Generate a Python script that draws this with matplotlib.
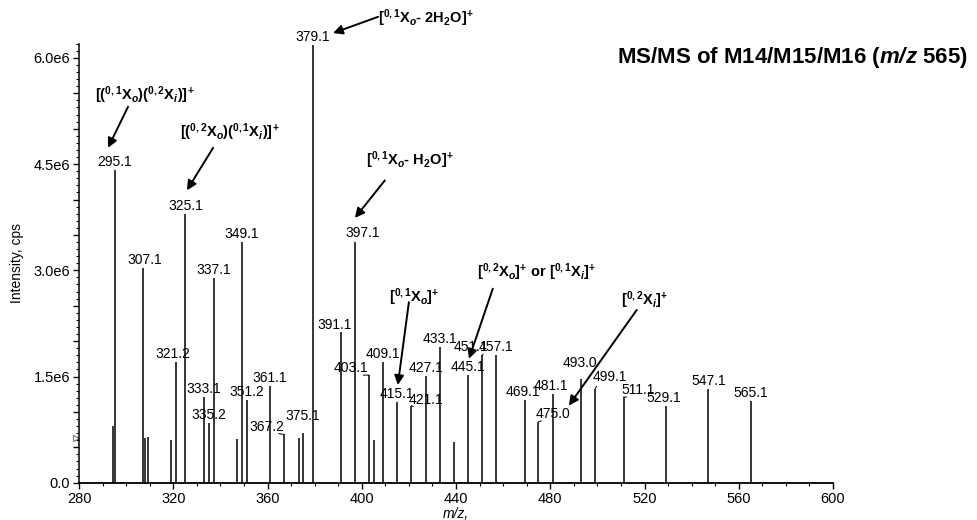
import matplotlib
matplotlib.use('Agg')
import matplotlib.pyplot as plt
from matplotlib.ticker import MultipleLocator, FuncFormatter

plt.rcParams['font.family'] = ['Liberation Sans', 'DejaVu Sans']
plt.rcParams['mathtext.fontset'] = 'custom'
plt.rcParams['mathtext.rm'] = 'Liberation Sans'
plt.rcParams['mathtext.it'] = 'Liberation Sans:italic'
plt.rcParams['mathtext.bf'] = 'Liberation Sans:bold'
plt.rcParams['mathtext.bfit'] = 'Liberation Sans:italic:bold'
plt.rcParams['mathtext.default'] = 'bf'

# ---- spectrum peaks (m/z, intensity in cps) ----
mz = [294.5, 295.1, 307.1, 308.1, 309.1, 318.9, 321.2, 325.1, 333.1, 335.2,
      337.1, 346.9, 349.1, 351.2, 361.1, 367.2, 373.2, 375.1, 379.1, 391.1,
      397.1, 403.1, 405.0, 409.1, 415.1, 421.1, 427.1, 433.1, 439.0, 445.1,
      451.1, 457.1, 469.1, 475.0, 481.1, 493.0, 499.1, 511.1, 529.1, 547.1,
      565.1]
intensity = [0.80e6, 4.42e6, 3.03e6, 0.63e6, 0.64e6, 0.60e6, 1.70e6, 3.80e6, 1.21e6, 0.85e6,
             2.89e6, 0.62e6, 3.40e6, 1.17e6, 1.37e6, 0.68e6, 0.63e6, 0.70e6, 6.18e6, 2.13e6,
             3.40e6, 1.52e6, 0.61e6, 1.71e6, 1.14e6, 1.09e6, 1.51e6, 1.92e6, 0.57e6, 1.52e6,
             1.80e6, 1.81e6, 1.17e6, 0.86e6, 1.25e6, 1.46e6, 1.33e6, 1.21e6, 1.09e6, 1.33e6,
             1.15e6]
peak_labels = ['', '295.1', '307.1', '', '', '', '321.2', '325.1', '333.1', '335.2',
               '337.1', '', '349.1', '351.2', '361.1', '367.2', '', '375.1', '379.1', '391.1',
               '397.1', '403.1', '', '409.1', '415.1', '421.1', '427.1', '433.1', '', '445.1',
               '451.1', '457.1', '469.1', '475.0', '481.1', '493.0', '499.1', '511.1', '529.1', '547.1',
               '565.1']

# label shifts in pixels (dx, dy, connector line)
label_shift = {
    '307.1': (2, 8, False), '321.2': (-3, 8, False),
    '367.2': (-18, 8, True), '375.1': (0, 17, False),
    '391.1': (-6, 7, False), '397.1': (8, 9, False),
    '403.1': (-18, 7, True), '421.1': (14, 6, True),
    '451.1': (-11, 8, True), '475.0': (15, 8, True),
    '493.0': (-1, 16, False), '499.1': (15, 12, True),
    '511.1': (15, 7, True), '469.1': (-2, 8, False),
    '481.1': (-2, 8, False), '529.1': (-2, 8, False),
}

# ---- fragment annotations ----
frag_texts = [
    r'[($^{0,1}$X$_{\mathbfit{o}}$)($^{0,2}$X$_{\mathbfit{i}}$)]$^{+}$',
    r'[($^{0,2}$X$_{\mathbfit{o}}$)($^{0,1}$X$_{\mathbfit{i}}$)]$^{+}$',
    r'[$^{0,1}$X$_{\mathbfit{o}}$- 2H$_{2}$O]$^{+}$',
    r'[$^{0,1}$X$_{\mathbfit{o}}$- H$_{2}$O]$^{+}$',
    r'[$^{0,1}$X$_{\mathbfit{o}}$]$^{+}$',
    r'[$^{0,2}$X$_{\mathbfit{o}}$]$^{+}$ or [$^{0,1}$X$_{\mathbfit{i}}$]$^{+}$',
    r'[$^{0,2}$X$_{\mathbfit{i}}$]$^{+}$',
]
frag_text_xy = [(308.0, 5.48e6), (344.1, 4.95e6), (427.2, 6.56e6), (420.4, 4.56e6),
                (422.1, 2.62e6), (474.3, 2.98e6), (520.1, 2.58e6)]
frag_arrow_tail = [(300.8, 5.31e6), (336.9, 4.73e6), (406.9, 6.58e6), (409.8, 4.27e6),
                   (420.0, 2.55e6), (455.6, 2.74e6), (516.7, 2.44e6)]
frag_arrow_head = [(292.3, 4.73e6), (325.8, 4.13e6), (387.8, 6.35e6), (397.1, 3.74e6),
                   (415.3, 1.38e6), (445.5, 1.75e6), (487.9, 1.09e6)]

threshold_marker = (278.8, 0.63e6)

fig = plt.figure(figsize=(9.77, 5.2), dpi=100)
ax = fig.add_axes([0.0809, 0.0717, 0.7717, 0.8442])

ax.vlines(mz, 0, intensity, color='black', lw=1.1)

PX = 0.72  # pixel -> points
for x, y, lab in zip(mz, intensity, peak_labels):
    if not lab:
        continue
    dx, dy, conn = label_shift.get(lab, (0, 8, False))
    props = None
    if conn:
        rp = (0.85, 0.0) if dx < 0 else (0.15, 0.0)
        props = dict(arrowstyle='-', lw=0.7, color='black', shrinkA=0, shrinkB=0, relpos=rp)
    ax.annotate(lab, xy=(x, y), xytext=(dx * PX, dy * PX), textcoords='offset points',
                ha='center', va='center', fontsize=10, arrowprops=props, annotation_clip=False)

for txt, txy, tail, head in zip(frag_texts, frag_text_xy, frag_arrow_tail, frag_arrow_head):
    ax.text(txy[0], txy[1], txt, ha='center', va='center', fontsize=10.5,
            fontweight='bold', clip_on=False)
    ax.annotate('', xy=head, xytext=tail, annotation_clip=False,
                arrowprops=dict(arrowstyle='-|>', lw=1.4, color='black',
                                mutation_scale=14, shrinkA=0, shrinkB=0))

ax.plot([threshold_marker[0]], [threshold_marker[1]], marker='>', ms=5, mfc='white',
        mec='#777777', mew=0.8, clip_on=False, ls='none')

ax.set_xlim(280, 600)
ax.set_ylim(0, 6.2e6)
ax.spines['top'].set_visible(False)
ax.spines['right'].set_visible(False)
ax.spines['left'].set_linewidth(1.1)
ax.spines['bottom'].set_linewidth(1.3)

ax.xaxis.set_major_locator(MultipleLocator(40))
ax.xaxis.set_minor_locator(MultipleLocator(10))
ax.yaxis.set_major_locator(MultipleLocator(0.5e6))
ax.yaxis.set_minor_locator(MultipleLocator(0.1e6))


def yfmt(v, pos):
    if abs(v / 1.5e6 - round(v / 1.5e6)) > 1e-6:
        return ''
    if v == 0:
        return '0.0'
    return '%.1fe6' % (v / 1e6)


ax.yaxis.set_major_formatter(FuncFormatter(yfmt))
ax.tick_params(axis='both', which='major', length=4.5, width=1, labelsize=10.5, pad=2)
ax.tick_params(axis='both', which='minor', length=2.5, width=0.8)

ax.set_xlabel('m/z,', fontsize=10, style='italic', labelpad=1)
ax.set_ylabel('Intensity, cps', fontsize=10, labelpad=7)

fig.text(0.8106, 0.8885, r'MS/MS of M14/M15/M16 ($\mathbfit{m/z}$ 565)', ha='center',
         va='center', fontsize=16, fontweight='bold')

fig.savefig('out.png', dpi=100)
